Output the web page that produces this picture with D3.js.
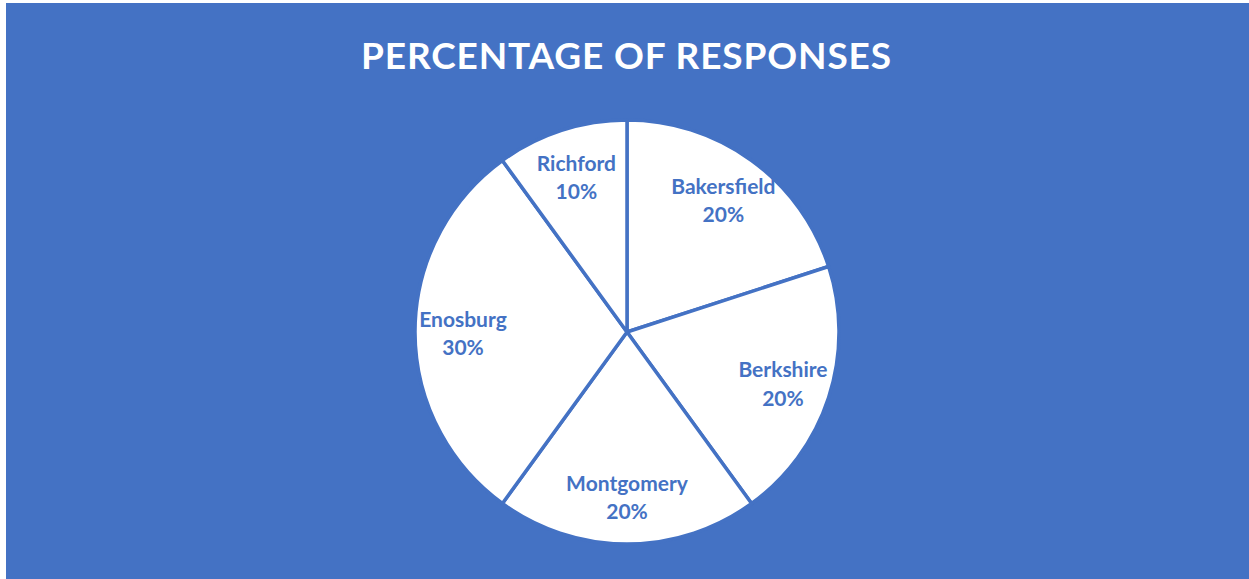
<!DOCTYPE html>
<html>
<head>
<meta charset="utf-8">
<script src="https://cdn.jsdelivr.net/npm/d3@7"></script>
<style>
  body { margin: 0; background: #ffffff; }
  text { font-family: Lato, "Open Sans", sans-serif; font-weight: bold; }
</style>
</head>
<body>
<div id="content"></div>
<script>
var towns = ["Bakersfield", "Berkshire", "Montgomery", "Enosburg", "Richford"];
var shares = [20, 20, 20, 30, 10];

var width = 1249, height = 579;
var blue = "#4472C4";

var svg = d3.select("div#content").append("svg")
  .attr("width", width)
  .attr("height", height);

// chart area (small white edge on the left and top)
svg.append("rect")
  .attr("x", 6)
  .attr("y", 3)
  .attr("width", width - 6)
  .attr("height", height - 3)
  .attr("fill", blue);

svg.append("text")
  .attr("x", 626)
  .attr("y", 69)
  .attr("text-anchor", "middle")
  .attr("fill", "#ffffff")
  .style("font-size", "37px")
  .attr("textLength", 530)
  .attr("lengthAdjust", "spacing")
  .text("PERCENTAGE OF RESPONSES");

var cx = 627, cy = 332, radius = 212;

var data = towns.map(function(t, i) {
  return { town: t, value: shares[i] };
});

var pie = d3.pie()
  .sort(null)
  .value(function(d) { return d.value; });

var arc = d3.arc().innerRadius(0).outerRadius(radius);
var labelArc = d3.arc().innerRadius(164).outerRadius(164);

svg.append("clipPath")
  .attr("id", "pieclip")
  .append("circle")
  .attr("cx", cx)
  .attr("cy", cy)
  .attr("r", radius);

var g = svg.append("g")
  .attr("transform", "translate(" + cx + "," + cy + ")");

g.selectAll(".slice")
  .data(pie(data))
  .enter().append("path")
  .attr("class", "slice")
  .attr("d", arc)
  .attr("fill", "#ffffff")
  .attr("stroke", blue)
  .attr("stroke-width", 3.5)
  .attr("stroke-linejoin", "round");

var labels = svg.append("g")
  .attr("clip-path", "url(#pieclip)")
  .append("g")
  .attr("transform", "translate(" + cx + "," + cy + ")");

var lab = labels.selectAll(".lab")
  .data(pie(data))
  .enter().append("text")
  .attr("class", "lab")
  .attr("text-anchor", "middle")
  .attr("fill", blue)
  .style("font-size", "21px")
  .attr("transform", function(d) {
    var c = labelArc.centroid(d);
    return "translate(" + c[0] + "," + c[1] + ")";
  });

lab.append("tspan")
  .attr("x", 0)
  .attr("dy", "-0.25em")
  .text(function(d) { return d.data.town; });

lab.append("tspan")
  .attr("x", 0)
  .attr("dy", "1.35em")
  .text(function(d) { return d.data.value + "%"; });
</script>
</body>
</html>
